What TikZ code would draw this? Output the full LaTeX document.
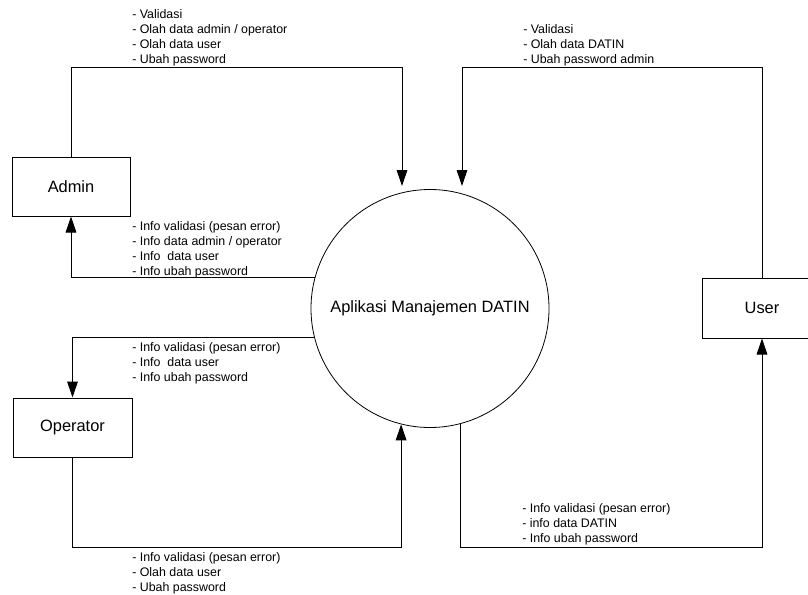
\documentclass[tikz,border=0pt]{standalone}
\usepackage{fontspec}
\setmainfont{Liberation Sans}
\usetikzlibrary{arrows.meta}
\begin{document}
\begin{tikzpicture}[x=0.75pt,y=-0.75pt,
  entity/.style={draw, line width=0.75pt, rectangle, inner sep=0pt,
    font=\fontsize{12.3}{14}\selectfont},
  process/.style={draw, circle, line width=0.6pt, inner sep=0pt,
    minimum size=178.5pt, font=\fontsize{12.3}{14}\selectfont},
  flow/.style={line width=0.75pt, -{Triangle[length=12pt,width=8pt]}},
  lbl/.style={anchor=north west, inner sep=0pt, align=left,
    font=\fontsize{9.3}{11.25}\selectfont}]
  \clip (0,0) rectangle (808,594);

  % process and external entities
  \node[process] (proc) at (430,308.5) {Aplikasi Manajemen DATIN};
  \node[entity, minimum width=88.5pt, minimum height=44.25pt] (admin) at (71,186.5) {Admin};
  \node[entity, minimum width=89.25pt, minimum height=44.25pt] (operator) at (72.5,427.5) {Operator};
  \node[entity, minimum width=90pt, minimum height=45pt] (user) at (762,308) {User};

  % helper points for the routed flows
  \coordinate (topY) at (0,67);
  \coordinate (botY) at (0,547);
  \coordinate (inA) at (402,186);
  \coordinate (inU) at (462,186);

  % data flows
  \draw[flow] (admin.north) |- (inA |- topY) -- (inA);
  \draw[flow] (user.north) |- (inU |- topY) -- (inU);
  \draw[flow] (proc.165) -| (admin.south);
  \draw[flow] (proc.194) -| (operator.north);
  \draw[flow] (operator.south) |- (proc.256.4 |- botY) -- (proc.256.4);
  \draw[flow] (proc.285.6) -- (proc.285.6 |- botY) -| (user.south);

  % flow labels
  \node[lbl] (lAdmIn) at (132,9.5) {- Validasi\\- Olah data admin / operator\\- Olah data user\\- Ubah password};
  \node[lbl] (lAdmOut) at (132,221.5) {- Info validasi (pesan error)\\- Info data admin / operator\\- Info\ \ data user\\- Info ubah password};
  \node[lbl] (lUsrIn) at (523,24.5) {- Validasi\\- Olah data DATIN\\- Ubah password admin};
  \node[lbl] (lOpIn) at (132,342.5) {- Info validasi (pesan error)\\- Info\ \ data user\\- Info ubah password};
  \node[lbl] (lOpOut) at (132,552.5) {- Info validasi (pesan error)\\- Olah data user\\- Ubah password};
  \node[lbl] (lUsrOut) at (522,503.5) {- Info validasi (pesan error)\\- info data DATIN\\- Info ubah password};
\end{tikzpicture}
\end{document}
